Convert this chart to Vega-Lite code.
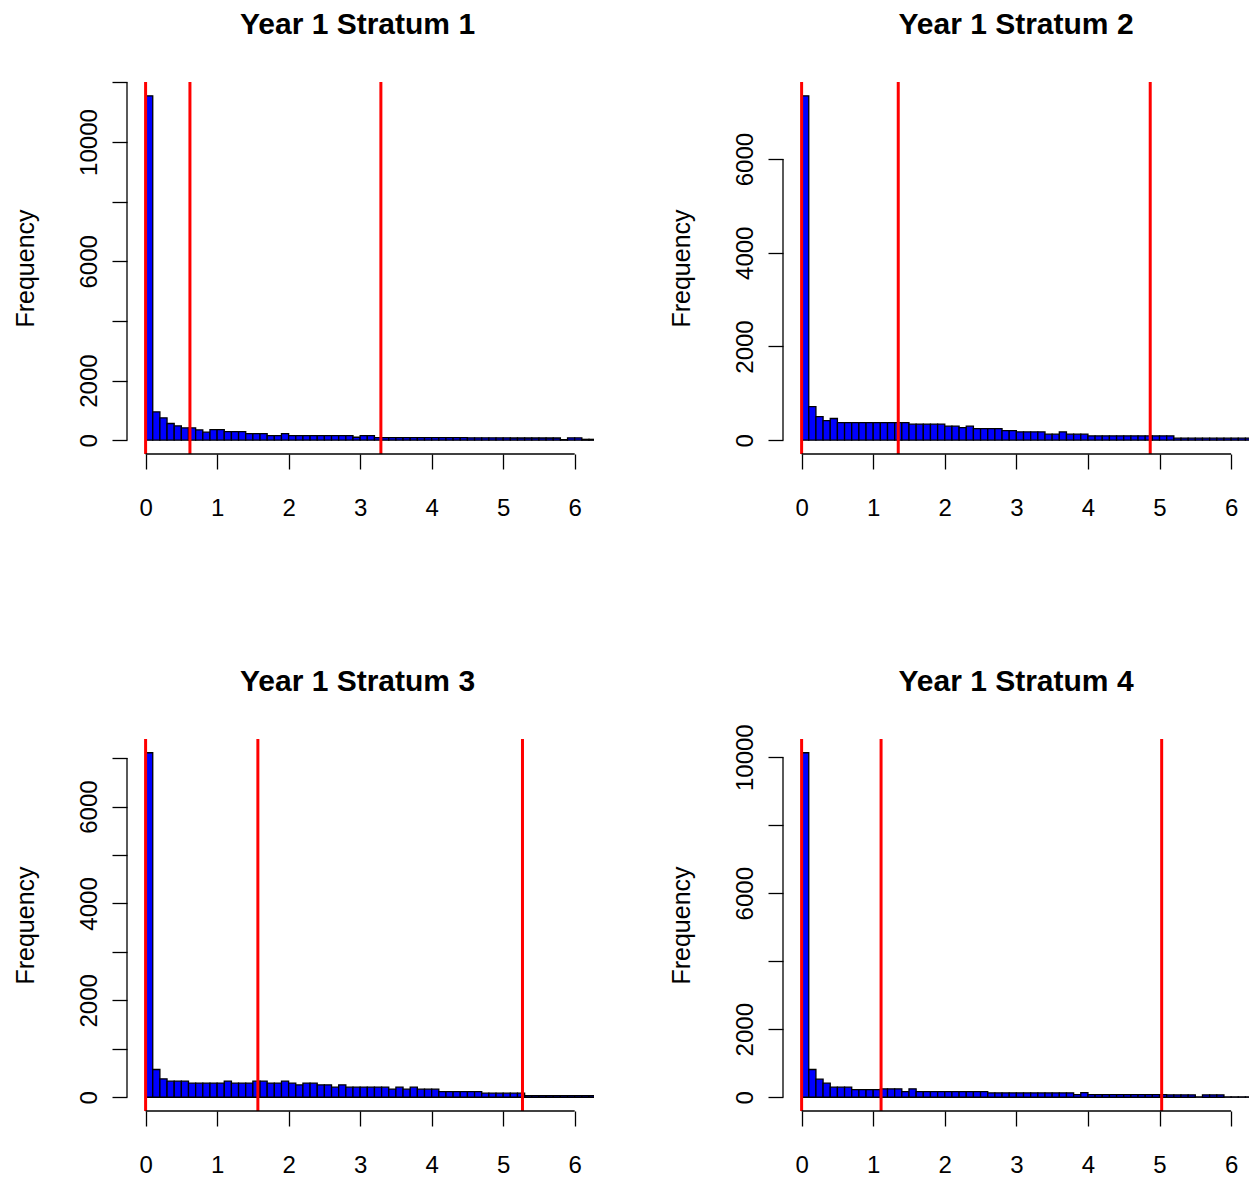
{
  "$schema": "https://vega.github.io/schema/vega-lite/v6.json",
  "background": "white",
  "padding": {"left": 12, "top": 9, "right": 0, "bottom": 0},
  "autosize": {"type": "pad"},
  "config": {
    "font": "Liberation Sans",
    "view": {"stroke": null},
    "axis": {"domain": false, "grid": false, "tickColor": "black", "tickSize": 15, "tickWidth": 1.3, "labelColor": "black", "labelFontSize": 24, "labelFont": "Liberation Sans", "titleFont": "Liberation Sans", "titleFontSize": 25, "titleFontWeight": "normal", "titleColor": "black", "labelOverlap": false, "labelFlush": false},
    "axisX": {"labelPadding": 27},
    "axisY": {"labelAngle": -90, "labelAlign": "center", "labelBaseline": "bottom", "labelPadding": 11, "titlePadding": 39},
    "title": {"fontSize": 30, "fontWeight": "bold", "font": "Liberation Sans", "color": "black", "anchor": "middle", "baseline": "alphabetic", "offset": 41, "frame": "group"}
  },
  "datasets": {
    "bars": [
      {"p":1,"a":0,"b":0.1,"n":11550},{"p":1,"a":0.1,"b":0.2,"n":952},{"p":1,"a":0.2,"b":0.3,"n":750},{"p":1,"a":0.3,"b":0.4,"n":560},{"p":1,"a":0.4,"b":0.5,"n":481},{"p":1,"a":0.5,"b":0.6,"n":414},{"p":1,"a":0.6,"b":0.7,"n":414},{"p":1,"a":0.7,"b":0.8,"n":347},{"p":1,"a":0.8,"b":0.9,"n":269},{"p":1,"a":0.9,"b":1,"n":358},
      {"p":1,"a":1,"b":1.1,"n":358},{"p":1,"a":1.1,"b":1.2,"n":291},{"p":1,"a":1.2,"b":1.3,"n":291},{"p":1,"a":1.3,"b":1.4,"n":291},{"p":1,"a":1.4,"b":1.5,"n":224},{"p":1,"a":1.5,"b":1.6,"n":224},{"p":1,"a":1.6,"b":1.7,"n":224},{"p":1,"a":1.7,"b":1.8,"n":157},{"p":1,"a":1.8,"b":1.9,"n":157},{"p":1,"a":1.9,"b":2,"n":224},
      {"p":1,"a":2,"b":2.1,"n":157},{"p":1,"a":2.1,"b":2.2,"n":157},{"p":1,"a":2.2,"b":2.3,"n":157},{"p":1,"a":2.3,"b":2.4,"n":157},{"p":1,"a":2.4,"b":2.5,"n":157},{"p":1,"a":2.5,"b":2.6,"n":157},{"p":1,"a":2.6,"b":2.7,"n":157},{"p":1,"a":2.7,"b":2.8,"n":157},{"p":1,"a":2.8,"b":2.9,"n":157},{"p":1,"a":2.9,"b":3,"n":100},
      {"p":1,"a":3,"b":3.1,"n":157},{"p":1,"a":3.1,"b":3.2,"n":157},{"p":1,"a":3.2,"b":3.3,"n":90},{"p":1,"a":3.3,"b":3.4,"n":90},{"p":1,"a":3.4,"b":3.5,"n":90},{"p":1,"a":3.5,"b":3.6,"n":90},{"p":1,"a":3.6,"b":3.7,"n":90},{"p":1,"a":3.7,"b":3.8,"n":90},{"p":1,"a":3.8,"b":3.9,"n":90},{"p":1,"a":3.9,"b":4,"n":90},
      {"p":1,"a":4,"b":4.1,"n":85},{"p":1,"a":4.1,"b":4.2,"n":85},{"p":1,"a":4.2,"b":4.3,"n":85},{"p":1,"a":4.3,"b":4.4,"n":85},{"p":1,"a":4.4,"b":4.5,"n":85},{"p":1,"a":4.5,"b":4.6,"n":80},{"p":1,"a":4.6,"b":4.7,"n":80},{"p":1,"a":4.7,"b":4.8,"n":80},{"p":1,"a":4.8,"b":4.9,"n":80},{"p":1,"a":4.9,"b":5,"n":80},
      {"p":1,"a":5,"b":5.1,"n":80},{"p":1,"a":5.1,"b":5.2,"n":75},{"p":1,"a":5.2,"b":5.3,"n":75},{"p":1,"a":5.3,"b":5.4,"n":75},{"p":1,"a":5.4,"b":5.5,"n":75},{"p":1,"a":5.5,"b":5.6,"n":75},{"p":1,"a":5.6,"b":5.7,"n":75},{"p":1,"a":5.7,"b":5.8,"n":75},{"p":1,"a":5.8,"b":5.9,"n":20},{"p":1,"a":5.9,"b":6,"n":80},
      {"p":1,"a":6,"b":6.1,"n":80},{"p":1,"a":6.1,"b":6.2,"n":30},{"p":1,"a":6.2,"b":6.3,"n":30},

      {"p":2,"a":0,"b":0.1,"n":7350},{"p":2,"a":0.1,"b":0.2,"n":719},{"p":2,"a":0.2,"b":0.3,"n":505},{"p":2,"a":0.3,"b":0.4,"n":420},{"p":2,"a":0.4,"b":0.5,"n":463},{"p":2,"a":0.5,"b":0.6,"n":377},{"p":2,"a":0.6,"b":0.7,"n":377},{"p":2,"a":0.7,"b":0.8,"n":377},{"p":2,"a":0.8,"b":0.9,"n":377},{"p":2,"a":0.9,"b":1,"n":377},
      {"p":2,"a":1,"b":1.1,"n":377},{"p":2,"a":1.1,"b":1.2,"n":377},{"p":2,"a":1.2,"b":1.3,"n":377},{"p":2,"a":1.3,"b":1.4,"n":377},{"p":2,"a":1.4,"b":1.5,"n":377},{"p":2,"a":1.5,"b":1.6,"n":342},{"p":2,"a":1.6,"b":1.7,"n":342},{"p":2,"a":1.7,"b":1.8,"n":342},{"p":2,"a":1.8,"b":1.9,"n":342},{"p":2,"a":1.9,"b":2,"n":342},
      {"p":2,"a":2,"b":2.1,"n":299},{"p":2,"a":2.1,"b":2.2,"n":299},{"p":2,"a":2.2,"b":2.3,"n":270},{"p":2,"a":2.3,"b":2.4,"n":299},{"p":2,"a":2.4,"b":2.5,"n":249},{"p":2,"a":2.5,"b":2.6,"n":249},{"p":2,"a":2.6,"b":2.7,"n":249},{"p":2,"a":2.7,"b":2.8,"n":249},{"p":2,"a":2.8,"b":2.9,"n":206},{"p":2,"a":2.9,"b":3,"n":206},
      {"p":2,"a":3,"b":3.1,"n":178},{"p":2,"a":3.1,"b":3.2,"n":178},{"p":2,"a":3.2,"b":3.3,"n":178},{"p":2,"a":3.3,"b":3.4,"n":178},{"p":2,"a":3.4,"b":3.5,"n":128},{"p":2,"a":3.5,"b":3.6,"n":128},{"p":2,"a":3.6,"b":3.7,"n":178},{"p":2,"a":3.7,"b":3.8,"n":128},{"p":2,"a":3.8,"b":3.9,"n":128},{"p":2,"a":3.9,"b":4,"n":128},
      {"p":2,"a":4,"b":4.1,"n":93},{"p":2,"a":4.1,"b":4.2,"n":93},{"p":2,"a":4.2,"b":4.3,"n":93},{"p":2,"a":4.3,"b":4.4,"n":93},{"p":2,"a":4.4,"b":4.5,"n":93},{"p":2,"a":4.5,"b":4.6,"n":93},{"p":2,"a":4.6,"b":4.7,"n":93},{"p":2,"a":4.7,"b":4.8,"n":93},{"p":2,"a":4.8,"b":4.9,"n":93},{"p":2,"a":4.9,"b":5,"n":93},
      {"p":2,"a":5,"b":5.1,"n":93},{"p":2,"a":5.1,"b":5.2,"n":93},{"p":2,"a":5.2,"b":5.3,"n":43},{"p":2,"a":5.3,"b":5.4,"n":43},{"p":2,"a":5.4,"b":5.5,"n":43},{"p":2,"a":5.5,"b":5.6,"n":43},{"p":2,"a":5.6,"b":5.7,"n":43},{"p":2,"a":5.7,"b":5.8,"n":43},{"p":2,"a":5.8,"b":5.9,"n":43},{"p":2,"a":5.9,"b":6,"n":43},
      {"p":2,"a":6,"b":6.1,"n":43},{"p":2,"a":6.1,"b":6.2,"n":43},{"p":2,"a":6.2,"b":6.3,"n":43},

      {"p":3,"a":0,"b":0.1,"n":7110},{"p":3,"a":0.1,"b":0.2,"n":573},{"p":3,"a":0.2,"b":0.3,"n":380},{"p":3,"a":0.3,"b":0.4,"n":331},{"p":3,"a":0.4,"b":0.5,"n":331},{"p":3,"a":0.5,"b":0.6,"n":331},{"p":3,"a":0.6,"b":0.7,"n":290},{"p":3,"a":0.7,"b":0.8,"n":290},{"p":3,"a":0.8,"b":0.9,"n":290},{"p":3,"a":0.9,"b":1,"n":290},
      {"p":3,"a":1,"b":1.1,"n":290},{"p":3,"a":1.1,"b":1.2,"n":331},{"p":3,"a":1.2,"b":1.3,"n":290},{"p":3,"a":1.3,"b":1.4,"n":290},{"p":3,"a":1.4,"b":1.5,"n":290},{"p":3,"a":1.5,"b":1.6,"n":331},{"p":3,"a":1.6,"b":1.7,"n":331},{"p":3,"a":1.7,"b":1.8,"n":290},{"p":3,"a":1.8,"b":1.9,"n":290},{"p":3,"a":1.9,"b":2,"n":331},
      {"p":3,"a":2,"b":2.1,"n":290},{"p":3,"a":2.1,"b":2.2,"n":255},{"p":3,"a":2.2,"b":2.3,"n":290},{"p":3,"a":2.3,"b":2.4,"n":290},{"p":3,"a":2.4,"b":2.5,"n":255},{"p":3,"a":2.5,"b":2.6,"n":255},{"p":3,"a":2.6,"b":2.7,"n":207},{"p":3,"a":2.7,"b":2.8,"n":255},{"p":3,"a":2.8,"b":2.9,"n":207},{"p":3,"a":2.9,"b":3,"n":207},
      {"p":3,"a":3,"b":3.1,"n":207},{"p":3,"a":3.1,"b":3.2,"n":207},{"p":3,"a":3.2,"b":3.3,"n":207},{"p":3,"a":3.3,"b":3.4,"n":207},{"p":3,"a":3.4,"b":3.5,"n":166},{"p":3,"a":3.5,"b":3.6,"n":207},{"p":3,"a":3.6,"b":3.7,"n":166},{"p":3,"a":3.7,"b":3.8,"n":207},{"p":3,"a":3.8,"b":3.9,"n":166},{"p":3,"a":3.9,"b":4,"n":166},
      {"p":3,"a":4,"b":4.1,"n":166},{"p":3,"a":4.1,"b":4.2,"n":117},{"p":3,"a":4.2,"b":4.3,"n":117},{"p":3,"a":4.3,"b":4.4,"n":117},{"p":3,"a":4.4,"b":4.5,"n":117},{"p":3,"a":4.5,"b":4.6,"n":117},{"p":3,"a":4.6,"b":4.7,"n":117},{"p":3,"a":4.7,"b":4.8,"n":83},{"p":3,"a":4.8,"b":4.9,"n":83},{"p":3,"a":4.9,"b":5,"n":83},
      {"p":3,"a":5,"b":5.1,"n":83},{"p":3,"a":5.1,"b":5.2,"n":83},{"p":3,"a":5.2,"b":5.3,"n":83},{"p":3,"a":5.3,"b":5.4,"n":35},{"p":3,"a":5.4,"b":5.5,"n":35},{"p":3,"a":5.5,"b":5.6,"n":35},{"p":3,"a":5.6,"b":5.7,"n":35},{"p":3,"a":5.7,"b":5.8,"n":35},{"p":3,"a":5.8,"b":5.9,"n":35},{"p":3,"a":5.9,"b":6,"n":35},
      {"p":3,"a":6,"b":6.1,"n":35},{"p":3,"a":6.1,"b":6.2,"n":35},{"p":3,"a":6.2,"b":6.3,"n":35},

      {"p":4,"a":0,"b":0.1,"n":10130},{"p":4,"a":0.1,"b":0.2,"n":816},{"p":4,"a":0.2,"b":0.3,"n":531},{"p":4,"a":0.3,"b":0.4,"n":413},{"p":4,"a":0.4,"b":0.5,"n":295},{"p":4,"a":0.5,"b":0.6,"n":295},{"p":4,"a":0.6,"b":0.7,"n":295},{"p":4,"a":0.7,"b":0.8,"n":226},{"p":4,"a":0.8,"b":0.9,"n":226},{"p":4,"a":0.9,"b":1,"n":226},
      {"p":4,"a":1,"b":1.1,"n":226},{"p":4,"a":1.1,"b":1.2,"n":246},{"p":4,"a":1.2,"b":1.3,"n":246},{"p":4,"a":1.3,"b":1.4,"n":246},{"p":4,"a":1.4,"b":1.5,"n":167},{"p":4,"a":1.5,"b":1.6,"n":246},{"p":4,"a":1.6,"b":1.7,"n":167},{"p":4,"a":1.7,"b":1.8,"n":167},{"p":4,"a":1.8,"b":1.9,"n":167},{"p":4,"a":1.9,"b":2,"n":167},
      {"p":4,"a":2,"b":2.1,"n":167},{"p":4,"a":2.1,"b":2.2,"n":167},{"p":4,"a":2.2,"b":2.3,"n":167},{"p":4,"a":2.3,"b":2.4,"n":167},{"p":4,"a":2.4,"b":2.5,"n":167},{"p":4,"a":2.5,"b":2.6,"n":167},{"p":4,"a":2.6,"b":2.7,"n":128},{"p":4,"a":2.7,"b":2.8,"n":128},{"p":4,"a":2.8,"b":2.9,"n":128},{"p":4,"a":2.9,"b":3,"n":128},
      {"p":4,"a":3,"b":3.1,"n":128},{"p":4,"a":3.1,"b":3.2,"n":128},{"p":4,"a":3.2,"b":3.3,"n":128},{"p":4,"a":3.3,"b":3.4,"n":128},{"p":4,"a":3.4,"b":3.5,"n":128},{"p":4,"a":3.5,"b":3.6,"n":128},{"p":4,"a":3.6,"b":3.7,"n":128},{"p":4,"a":3.7,"b":3.8,"n":128},{"p":4,"a":3.8,"b":3.9,"n":79},{"p":4,"a":3.9,"b":4,"n":138},
      {"p":4,"a":4,"b":4.1,"n":79},{"p":4,"a":4.1,"b":4.2,"n":79},{"p":4,"a":4.2,"b":4.3,"n":79},{"p":4,"a":4.3,"b":4.4,"n":79},{"p":4,"a":4.4,"b":4.5,"n":79},{"p":4,"a":4.5,"b":4.6,"n":79},{"p":4,"a":4.6,"b":4.7,"n":79},{"p":4,"a":4.7,"b":4.8,"n":79},{"p":4,"a":4.8,"b":4.9,"n":79},{"p":4,"a":4.9,"b":5,"n":79},
      {"p":4,"a":5,"b":5.1,"n":79},{"p":4,"a":5.1,"b":5.2,"n":69},{"p":4,"a":5.2,"b":5.3,"n":69},{"p":4,"a":5.3,"b":5.4,"n":69},{"p":4,"a":5.4,"b":5.5,"n":69},{"p":4,"a":5.5,"b":5.6,"n":10},{"p":4,"a":5.6,"b":5.7,"n":69},{"p":4,"a":5.7,"b":5.8,"n":69},{"p":4,"a":5.8,"b":5.9,"n":69},{"p":4,"a":5.9,"b":6,"n":10},
      {"p":4,"a":6,"b":6.1,"n":10},{"p":4,"a":6.1,"b":6.2,"n":10},{"p":4,"a":6.2,"b":6.3,"n":10}
    ],
    "lines": [
      {"p":1,"v":0},{"p":1,"v":0.62},{"p":1,"v":3.29},
      {"p":2,"v":0},{"p":2,"v":1.35},{"p":2,"v":4.87},
      {"p":3,"v":0},{"p":3,"v":1.57},{"p":3,"v":5.27},
      {"p":4,"v":0},{"p":4,"v":1.11},{"p":4,"v":5.03}
    ]
  },
  "columns": 2,
  "spacing": {"row": 285, "column": 189},
  "bounds": "flush",
  "concat": [
    {
      "title": {"text": "Year 1 Stratum 1", "dx": -3},
      "width": 467, "height": 372,
      "layer": [
        {"data": {"name": "bars"}, "transform": [{"filter": "datum.p == 1"}],
         "mark": {"type": "rect", "fill": "#0000FF", "stroke": "black", "strokeWidth": 1.3, "clip": true},
         "encoding": {
           "x": {"field": "a", "type": "quantitative", "title": null, "scale": {"domain": [-0.26, 6.27], "nice": false, "zero": false}, "axis": {"values": [0,1,2,3,4,5,6], "format": "d"}},
           "x2": {"field": "b"},
           "y": {"field": "n", "type": "quantitative", "title": "Frequency", "scale": {"domain": [-462, 12012], "nice": false, "zero": false}, "axis": {"values": [0,2000,4000,6000,8000,10000,12000], "format": "d", "labelExpr": "(datum.value == 4000 || datum.value == 8000 || datum.value == 12000) ? '' : datum.label"}},
           "y2": {"datum": 0}
         }},
        {"data": {"name": "lines"}, "transform": [{"filter": "datum.p == 1"}],
         "mark": {"type": "rule", "color": "#FF0000", "strokeWidth": 3},
         "encoding": {"x": {"field": "v", "type": "quantitative", "title": null}}},
        {"data": {"values": [{}]}, "mark": {"type": "rule", "color": "black", "strokeWidth": 1.3},
         "encoding": {"x": {"datum": -0.26}, "y": {"datum": 0}, "y2": {"datum": 12000}}},
        {"data": {"values": [{}]}, "mark": {"type": "rule", "color": "black", "strokeWidth": 1.3},
         "encoding": {"y": {"datum": -462}, "x": {"datum": 0}, "x2": {"datum": 6}}}
      ]
    },
    {
      "title": "Year 1 Stratum 2",
      "width": 466, "height": 372,
      "layer": [
        {"data": {"name": "bars"}, "transform": [{"filter": "datum.p == 2"}],
         "mark": {"type": "rect", "fill": "#0000FF", "stroke": "black", "strokeWidth": 1.3, "clip": true},
         "encoding": {
           "x": {"field": "a", "type": "quantitative", "title": null, "scale": {"domain": [-0.26, 6.25], "nice": false, "zero": false}, "axis": {"values": [0,1,2,3,4,5,6], "format": "d"}},
           "x2": {"field": "b"},
           "y": {"field": "n", "type": "quantitative", "title": "Frequency", "scale": {"domain": [-294, 7644], "nice": false, "zero": false}, "axis": {"values": [0,2000,4000,6000], "format": "d"}},
           "y2": {"datum": 0}
         }},
        {"data": {"name": "lines"}, "transform": [{"filter": "datum.p == 2"}],
         "mark": {"type": "rule", "color": "#FF0000", "strokeWidth": 3},
         "encoding": {"x": {"field": "v", "type": "quantitative", "title": null}}},
        {"data": {"values": [{}]}, "mark": {"type": "rule", "color": "black", "strokeWidth": 1.3},
         "encoding": {"x": {"datum": -0.26}, "y": {"datum": 0}, "y2": {"datum": 6000}}},
        {"data": {"values": [{}]}, "mark": {"type": "rule", "color": "black", "strokeWidth": 1.3},
         "encoding": {"y": {"datum": -294}, "x": {"datum": 0}, "x2": {"datum": 6}}}
      ]
    },
    {
      "title": {"text": "Year 1 Stratum 3", "dx": -3},
      "width": 467, "height": 372,
      "layer": [
        {"data": {"name": "bars"}, "transform": [{"filter": "datum.p == 3"}],
         "mark": {"type": "rect", "fill": "#0000FF", "stroke": "black", "strokeWidth": 1.3, "clip": true},
         "encoding": {
           "x": {"field": "a", "type": "quantitative", "title": null, "scale": {"domain": [-0.26, 6.27], "nice": false, "zero": false}, "axis": {"values": [0,1,2,3,4,5,6], "format": "d"}},
           "x2": {"field": "b"},
           "y": {"field": "n", "type": "quantitative", "title": "Frequency", "scale": {"domain": [-284, 7394], "nice": false, "zero": false}, "axis": {"values": [0,1000,2000,3000,4000,5000,6000,7000], "format": "d", "labelExpr": "(datum.value % 2000 == 0 && datum.value < 7000) ? datum.label : ''"}},
           "y2": {"datum": 0}
         }},
        {"data": {"name": "lines"}, "transform": [{"filter": "datum.p == 3"}],
         "mark": {"type": "rule", "color": "#FF0000", "strokeWidth": 3},
         "encoding": {"x": {"field": "v", "type": "quantitative", "title": null}}},
        {"data": {"values": [{}]}, "mark": {"type": "rule", "color": "black", "strokeWidth": 1.3},
         "encoding": {"x": {"datum": -0.26}, "y": {"datum": 0}, "y2": {"datum": 7000}}},
        {"data": {"values": [{}]}, "mark": {"type": "rule", "color": "black", "strokeWidth": 1.3},
         "encoding": {"y": {"datum": -284}, "x": {"datum": 0}, "x2": {"datum": 6}}}
      ]
    },
    {
      "title": {"text": "Year 1 Stratum 4", "offset": 27},
      "width": 466, "height": 372,
      "layer": [
        {"data": {"name": "bars"}, "transform": [{"filter": "datum.p == 4"}],
         "mark": {"type": "rect", "fill": "#0000FF", "stroke": "black", "strokeWidth": 1.3, "clip": true},
         "encoding": {
           "x": {"field": "a", "type": "quantitative", "title": null, "scale": {"domain": [-0.26, 6.25], "nice": false, "zero": false}, "axis": {"values": [0,1,2,3,4,5,6], "format": "d"}},
           "x2": {"field": "b"},
           "y": {"field": "n", "type": "quantitative", "title": "Frequency", "scale": {"domain": [-405, 10535], "nice": false, "zero": false}, "axis": {"values": [0,2000,4000,6000,8000,10000], "format": "d", "labelExpr": "(datum.value == 4000 || datum.value == 8000) ? '' : datum.label"}},
           "y2": {"datum": 0}
         }},
        {"data": {"name": "lines"}, "transform": [{"filter": "datum.p == 4"}],
         "mark": {"type": "rule", "color": "#FF0000", "strokeWidth": 3},
         "encoding": {"x": {"field": "v", "type": "quantitative", "title": null}}},
        {"data": {"values": [{}]}, "mark": {"type": "rule", "color": "black", "strokeWidth": 1.3},
         "encoding": {"x": {"datum": -0.26}, "y": {"datum": 0}, "y2": {"datum": 10000}}},
        {"data": {"values": [{}]}, "mark": {"type": "rule", "color": "black", "strokeWidth": 1.3},
         "encoding": {"y": {"datum": -405}, "x": {"datum": 0}, "x2": {"datum": 6}}}
      ]
    }
  ]
}
